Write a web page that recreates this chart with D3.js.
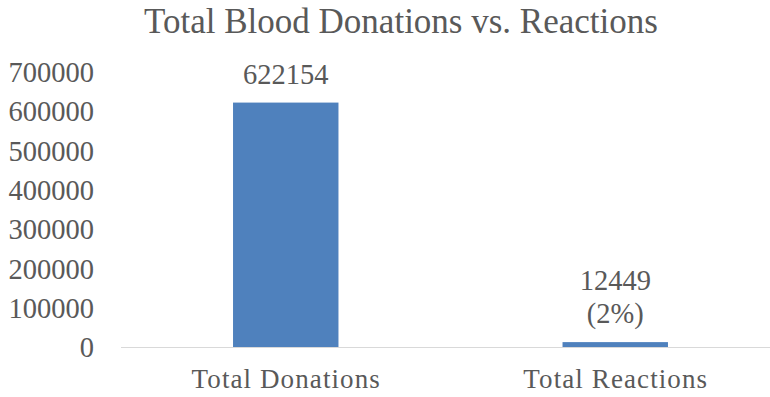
<!DOCTYPE html>
<html>
<head>
<meta charset="utf-8">
<script src="https://cdn.jsdelivr.net/npm/d3@7"></script>
<style>
  body { margin: 0; background: #fff; }
</style>
</head>
<body>
<div id="chart"></div>
<script>
// chart data
var categories = ["Total Donations", "Total Reactions"];
var values = [622154, 12449];
var valueLabels = [["622154"], ["12449", "(2%)"]];
var yTicks = [0, 100000, 200000, 300000, 400000, 500000, 600000, 700000];

var width = 770, height = 397;
var margin = {top: 72, right: -10, bottom: 50, left: 121};
var serif = "'Liberation Serif'";
var textColor = "#595959";

var svg = d3.select("#chart").append("svg")
    .attr("width", width)
    .attr("height", height);

//scales
var x = d3.scaleBand()
    .domain(categories)
    .range([margin.left, width - margin.right])
    .paddingInner(0.68)
    .paddingOuter(0.34);

var y = d3.scaleLinear()
    .domain([0, 700000])
    .range([height - margin.bottom, margin.top]);

// title
svg.append("text")
    .attr("x", 401)
    .attr("y", 33)
    .attr("text-anchor", "middle")
    .style("font-family", serif)
    .style("font-size", "35px")
    .style("fill", textColor)
    .text("Total Blood Donations vs. Reactions");

// y axis labels, no line
var yAxis = d3.axisLeft(y).tickValues(yTicks).tickSize(0).tickPadding(0).tickFormat(d3.format("d"));
var gy = svg.append("g")
    .attr("transform", "translate(94,0)")
    .call(yAxis);
gy.select(".domain").remove();
gy.selectAll("text")
    .style("font-family", serif)
    .style("font-size", "28.5px")
    .style("fill", textColor)
    .attr("dy", "0.34em");

// bars
svg.selectAll("rect.bar")
    .data(values)
    .enter()
    .append("rect")
    .attr("class", "bar")
    .attr("x", (d, i) => x(categories[i]))
    .attr("width", x.bandwidth())
    .attr("y", d => y(d))
    .attr("height", d => y(0) - y(d))
    .attr("fill", "#4f81bd");

// baseline
svg.append("line")
    .attr("x1", margin.left)
    .attr("x2", width)
    .attr("y1", y(0) + 0.5)
    .attr("y2", y(0) + 0.5)
    .attr("stroke", "#d9d9d9")
    .attr("stroke-width", 1);

// category labels
var xAxis = d3.axisBottom(x).tickSize(0).tickPadding(0);
var gx = svg.append("g")
    .attr("transform", "translate(0," + y(0) + ")")
    .call(xAxis);
gx.select(".domain").remove();
gx.selectAll("text")
    .attr("y", 41)
    .attr("dy", null)
    .attr("dx", "0.5px")
    .style("font-family", serif)
    .style("font-size", "27px")
    .style("fill", textColor)
    .style("letter-spacing", "1.1px");

// value labels
var lineH = 33;
values.forEach(function(v, i){
    var lines = valueLabels[i];
    var t = svg.append("text")
        .attr("text-anchor", "middle")
        .style("font-family", serif)
        .style("font-size", "28.5px")
        .style("fill", textColor);
    lines.forEach(function(s, j){
        t.append("tspan")
            .attr("x", x(categories[i]) + x.bandwidth() / 2)
            .attr("y", y(v) - 19 - (lines.length - 1 - j) * lineH)
            .text(s);
    });
});
</script>
</body>
</html>
